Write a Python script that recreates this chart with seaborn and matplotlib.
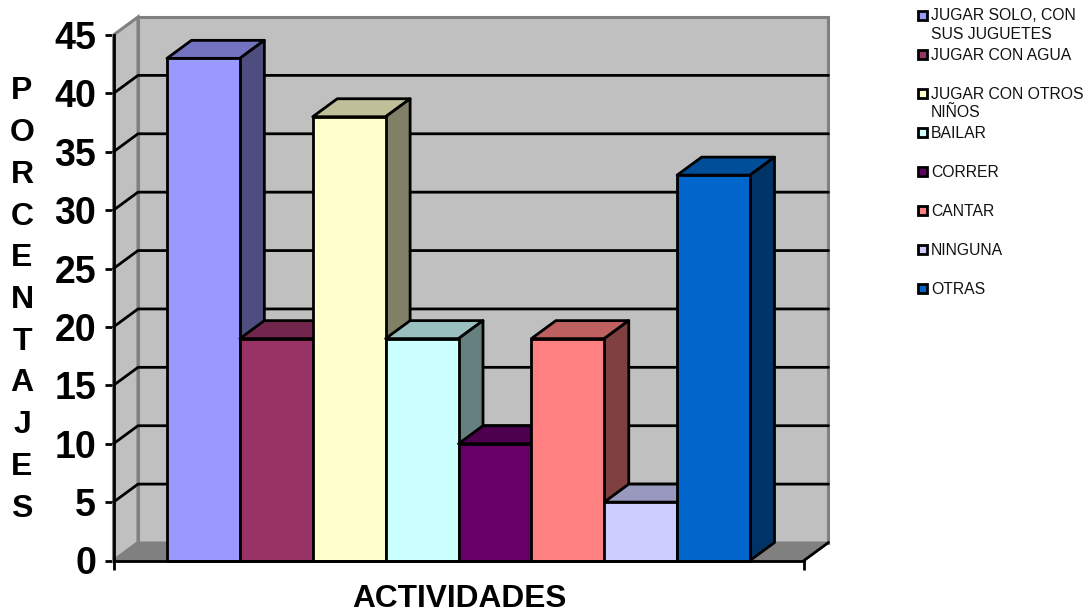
import pandas as pd
import matplotlib.pyplot as plt
import matplotlib.colors as mcolors
from matplotlib.patches import Polygon, Rectangle
import seaborn as sns

actividades = ['JUGAR SOLO, CON\nSUS JUGUETES', 'JUGAR CON AGUA', 'JUGAR CON OTROS\nNIÑOS', 'BAILAR',
               'CORRER', 'CANTAR', 'NINGUNA', 'OTRAS']
porcentajes = [43, 19, 38, 19, 10, 19, 5, 33]
colores = ['#9999FF', '#993366', '#FFFFCC', '#CCFFFF', '#660066', '#FF8080', '#CCCCFF', '#0066CC']
ticks_y = [0, 5, 10, 15, 20, 25, 30, 35, 40, 45]

sns.set_style('white')
plt.rcParams['font.family'] = ['Liberation Sans', 'DejaVu Sans']

W, H = 1091, 612
fig = plt.figure(figsize=(W / 100, H / 100), dpi=100)
ax = fig.add_axes([113.5 / W, 1 - 560.5 / H, 690.5 / W, 525.5 / H])

df = pd.DataFrame({'actividad': actividades, 'porcentaje': porcentajes})
sns.barplot(data=df, x='actividad', y='porcentaje', hue='actividad', palette=colores,
            dodge=False, width=1, legend=False, edgecolor='black', linewidth=2, saturation=1, ax=ax)
barras = list(ax.patches)

# limits so that the bars sit in the middle of the floor like in the excel chart
xl = -0.5 - 53.5 / 72.9
xr = 7.5 + 54 / 72.9
ax.set_xlim(xl, xr)
ax.set_ylim(0, 45)
dx = 24.5 / 72.9   # depth of the 3d effect
dy = 18 / 11.68

# walls and floor
gris = '#808080'
ax.add_patch(Polygon([(xl + dx, dy), (xr + dx, dy), (xr + dx, 45 + dy), (xl + dx, 45 + dy)],
                     fc='#C0C0C0', ec=gris, lw=2.2, zorder=1, clip_on=False))
ax.add_patch(Polygon([(xl, 0), (xl + dx, dy), (xl + dx, 45 + dy), (xl, 45)],
                     fc='#C0C0C0', ec=gris, lw=2.2, zorder=1, clip_on=False))
ax.add_patch(Polygon([(xl, 0), (xr, 0), (xr + dx, dy), (xl + dx, dy)],
                     fc=gris, ec=gris, lw=1.5, zorder=1.2, clip_on=False))
ax.plot([xr, xr + dx], [0, dy], color='black', lw=2, zorder=1.3, clip_on=False)

# gridlines on the back wall and on the left wall
for v in ticks_y[1:-1]:
    ax.plot([xl, xl + dx, xr + dx], [v, v + dy, v + dy], color='black', lw=2, zorder=1.5, clip_on=False)

# top and side of every bar, left to right so each one covers the previous
for i, bar in enumerate(barras):
    x0, x1 = bar.get_x(), bar.get_x() + bar.get_width()
    h = bar.get_height()
    rgb = mcolors.to_rgb(bar.get_facecolor())
    top = tuple(c * 0.75 for c in rgb)
    side = tuple(c * 0.5 for c in rgb)
    z = 3 + i
    ax.add_patch(Polygon([(x0, h), (x1, h), (x1 + dx, h + dy), (x0 + dx, h + dy)],
                         fc=top, ec='black', lw=2, zorder=z, joinstyle='round', clip_on=False))
    ax.add_patch(Polygon([(x1, 0), (x1 + dx, dy), (x1 + dx, h + dy), (x1, h)],
                         fc=side, ec='black', lw=2, zorder=z, joinstyle='round', clip_on=False))
    bar.set_zorder(z + 0.5)
    bar.set_clip_on(False)

for s in ['top', 'right']:
    ax.spines[s].set_visible(False)
for s in ['left', 'bottom']:
    ax.spines[s].set_linewidth(2)
    ax.spines[s].set_color('black')
    ax.spines[s].set_zorder(50)

ax.set_yticks(ticks_y)
ax.set_xticks([xl, xr])
ax.set_xticklabels(['', ''])
ax.tick_params(axis='both', length=6.5, width=2, color='black', bottom=True, left=True)
ax.tick_params(axis='y', labelsize=27, pad=6, labelcolor='black')
for t in ax.get_yticklabels():
    t.set_fontweight('bold')

ax.set_xlabel('')
ax.set_ylabel('')
fig.text(459 / W, 1 - 599 / H, 'ACTIVIDADES', fontsize=22.8, fontweight='bold', color='black',
         ha='center', va='center')
fig.text(22 / W, 1 - 300 / H, '\n'.join('PORCENTAJES'), fontsize=23, fontweight='bold', color='black',
         ha='center', va='center', linespacing=1.51)

# legend, excel keeps a fixed step so it is placed by hand
paso = 39.1
for i, (nombre, col) in enumerate(zip(actividades, colores)):
    yc = 15 + paso * i
    fig.add_artist(Rectangle((917.5 / W, 1 - (yc + 4.5) / H), 9 / W, 9 / H, transform=fig.transFigure,
                             fc=col, ec='black', lw=2))
    fig.text(931 / W, 1 - (yc - 6.5) / H, nombre, fontsize=11.3, color='#111111', ha='left', va='top', linespacing=1.3)

fig.savefig('out.png', dpi=100)
